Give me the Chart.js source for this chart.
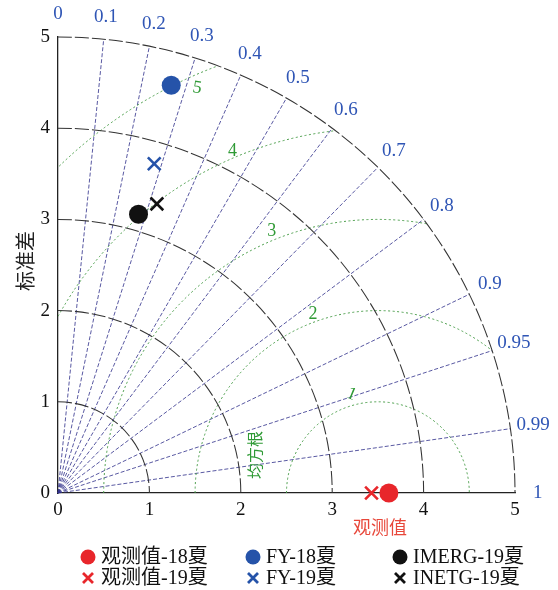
<!DOCTYPE html>
<html>
<head>
<meta charset="utf-8">
<title>Taylor diagram</title>
<script src="https://cdn.jsdelivr.net/npm/chart.js"></script>
<style>
  html, body { margin: 0; padding: 0; background: #fff; }
  .wrap { width: 558px; height: 590px; position: relative; }
</style>
</head>
<body>
<div class="wrap"><canvas id="taylor"></canvas></div>
<script>
  // std deviation and correlation of each series against the observations
  const seriesNames = ["观测值-18夏", "观测值-19夏", "FY-18夏", "FY-19夏", "IMERG-19夏", "INETG-19夏"];
  const stdDevs = [3.62, 3.43, 4.64, 3.76, 3.18, 3.35];
  const correlations = [1, 1, 0.267, 0.28, 0.277, 0.323];

  const stdTicks = [1, 2, 3, 4, 5];
  const corrTicks = [0, 0.1, 0.2, 0.3, 0.4, 0.5, 0.6, 0.7, 0.8, 0.9, 0.95, 0.99, 1];
  const rmsLevels = [1, 2, 3, 4, 5];
  const refStd = 3.5;
  const maxStd = 5;

  const colors = ["#e8262b", "#e8262b", "#2553a9", "#2553a9", "#111111", "#111111"];
  const styles = ["circle", "crossRot", "circle", "crossRot", "circle", "crossRot"];

  const SERIF = '"Liberation Serif", "Noto Sans CJK SC", serif';
  const CJK = '"Noto Sans CJK SC", sans-serif';

  const datasets = seriesNames.map((name, i) => {
    const c = correlations[i];
    const s = stdDevs[i];
    return {
      label: name,
      data: [{ x: s * c, y: s * Math.sqrt(1 - c * c) }],
      pointStyle: styles[i],
      pointRadius: styles[i] === "circle" ? 9.5 : 9,
      backgroundColor: colors[i],
      borderColor: colors[i],
      borderWidth: styles[i] === "circle" ? 0 : 2.6,
      clip: false,
    };
  });

  // green label placement along the RMS arcs (degrees from the reference point)
  const rmsLabelAngle = [105, 110, 112, 113, 114];
  const rmsLabelOffset = [0.12, 0.08, 0.1, 0.07, -0.14];
  const rmsLabelTilt = [0.4, 0, 0, 0, 0.15];

  const taylorGrid = {
    id: "taylorGrid",
    beforeDatasetsDraw(chart) {
      const ctx = chart.ctx;
      const xs = chart.scales.x, ys = chart.scales.y;
      const x0 = xs.getPixelForValue(0), y0 = ys.getPixelForValue(0);
      const kx = xs.getPixelForValue(1) - x0, ky = y0 - ys.getPixelForValue(1);
      const P = (x, y) => [x0 + x * kx, y0 - y * ky];

      ctx.save();

      // correlation rays
      ctx.strokeStyle = "rgba(50,50,140,0.9)";
      ctx.lineWidth = 0.9;
      ctx.setLineDash([4, 2]);
      corrTicks.forEach(c => {
        if (c === 0 || c === 1) return;
        const t = Math.acos(c);
        const e = P(maxStd * Math.cos(t), maxStd * Math.sin(t));
        ctx.beginPath();
        ctx.moveTo(x0, y0);
        ctx.lineTo(e[0], e[1]);
        ctx.stroke();
      });

      // RMS difference arcs, kept inside the quarter circle
      ctx.save();
      ctx.beginPath();
      ctx.moveTo(x0, y0);
      ctx.ellipse(x0, y0, maxStd * kx, maxStd * ky, 0, -Math.PI / 2, 0);
      ctx.closePath();
      ctx.clip();
      ctx.strokeStyle = "#4c9e4c";
      ctx.lineWidth = 1;
      ctx.setLineDash([2, 2.5]);
      const rc = P(refStd, 0);
      rmsLevels.forEach(r => {
        ctx.beginPath();
        ctx.ellipse(rc[0], rc[1], r * kx, r * ky, 0, Math.PI, 2 * Math.PI);
        ctx.stroke();
      });
      ctx.restore();

      // std deviation arcs
      ctx.strokeStyle = "#333";
      ctx.lineWidth = 1.05;
      ctx.setLineDash([14, 3]);
      stdTicks.forEach(r => {
        ctx.beginPath();
        ctx.ellipse(x0, y0, r * kx, r * ky, 0, -Math.PI / 2, 0);
        ctx.stroke();
      });
      ctx.setLineDash([]);

      // correlation labels
      ctx.fillStyle = "#2f55b5";
      ctx.font = "19px " + SERIF;
      ctx.textAlign = "center";
      ctx.textBaseline = "middle";
      corrTicks.forEach(c => {
        const t = Math.acos(c);
        const p = P(5.25 * Math.cos(t), 5.25 * Math.sin(t));
        ctx.fillText(String(c), p[0], p[1]);
      });

      // RMS labels
      ctx.fillStyle = "#2f9a35";
      ctx.font = "18px " + SERIF;
      rmsLevels.forEach((r, i) => {
        const a = rmsLabelAngle[i] * Math.PI / 180;
        const rr = r + rmsLabelOffset[i];
        const p = P(refStd + rr * Math.cos(a), rr * Math.sin(a));
        ctx.save();
        ctx.translate(p[0], p[1]);
        ctx.rotate(rmsLabelTilt[i]);
        ctx.fillText(String(r), 0, 0);
        ctx.restore();
      });

      // axis captions
      ctx.save();
      ctx.font = "16px " + CJK;
      ctx.translate(x0 + 197, y0 - 38);
      ctx.rotate(-Math.PI / 2);
      ctx.fillText("均方根", 0, 0);
      ctx.restore();

      ctx.fillStyle = "#e8473a";
      ctx.font = "18px " + CJK;
      ctx.fillText("观测值", P(refStd, 0)[0] + 2, y0 + 34);

      ctx.save();
      ctx.fillStyle = "#222";
      ctx.font = "20px " + CJK;
      ctx.translate(25, 261);
      ctx.rotate(-Math.PI / 2);
      ctx.fillText("标准差", 0, 0);
      ctx.restore();

      ctx.restore();
    },
    afterDraw(chart) {
      // three-column legend under the plot
      const ctx = chart.ctx;
      const colX = [88, 253, 400];
      const rowY = [557, 578];
      ctx.save();
      ctx.font = "20px " + SERIF;
      ctx.textBaseline = "middle";
      ctx.textAlign = "left";
      seriesNames.forEach((name, i) => {
        const x = colX[Math.floor(i / 2)], y = rowY[i % 2];
        ctx.fillStyle = colors[i];
        ctx.strokeStyle = colors[i];
        if (styles[i] === "circle") {
          ctx.beginPath();
          ctx.arc(x, y, 7.5, 0, 2 * Math.PI);
          ctx.fill();
        } else {
          const d = 5;
          ctx.lineWidth = 2.8;
          ctx.beginPath();
          ctx.moveTo(x - d, y - d); ctx.lineTo(x + d, y + d);
          ctx.moveTo(x + d, y - d); ctx.lineTo(x - d, y + d);
          ctx.stroke();
        }
        ctx.fillStyle = "#111";
        ctx.fillText(name, x + 13, y + 1);
      });
      ctx.restore();
    }
  };

  const axisTicks = {
    stepSize: 1,
    color: "#111",
    font: { family: SERIF, size: 19 },
  };

  new Chart(document.getElementById("taylor"), {
    type: "scatter",
    data: { datasets: datasets },
    options: {
      responsive: true,
      maintainAspectRatio: false,
      animation: false,
      layout: { padding: { left: 0, top: 37, right: 43, bottom: 0 } },
      plugins: { legend: { display: false }, tooltip: { enabled: false } },
      scales: {
        x: {
          min: 0, max: maxStd,
          grid: { display: false, drawTicks: false },
          border: { color: "#222", width: 1.3 },
          ticks: Object.assign({ padding: 6 }, axisTicks),
          afterFit(s) { s.height = 97; },
        },
        y: {
          min: 0, max: maxStd,
          grid: { display: false, drawTicks: false },
          border: { color: "#222", width: 1.3 },
          ticks: Object.assign({ padding: 8 }, axisTicks),
          afterFit(s) { s.width = 58; },
        },
      },
    },
    plugins: [taylorGrid],
  });
</script>
</body>
</html>
